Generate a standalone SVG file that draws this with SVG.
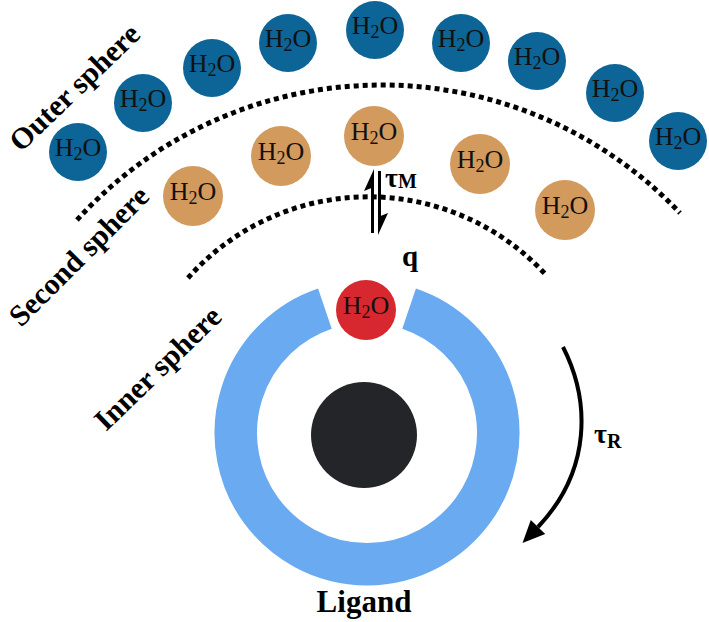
<svg xmlns="http://www.w3.org/2000/svg" width="709" height="622" viewBox="0 0 709 622">
<style>
.blue{fill:#0d6496}
.tan{fill:#d39a5e}
.red{fill:#d7282f}
.w{font-family:"Liberation Serif","Times New Roman",serif;font-size:26px;fill:#111;text-anchor:middle}
.sub{font-size:18px}
.lbl{font-family:"Liberation Serif","Times New Roman",serif;font-weight:bold;font-size:30px;fill:#000}
.dot{fill:none;stroke:#000;stroke-width:5;stroke-dasharray:5 4}
</style>
<rect width="709" height="622" fill="#fff"/>
<g id="sphere-boundaries">
<path class="dot" d="M77,220 A411.5,411.5 0 0 1 680,213"/>
<path class="dot" d="M188,278 A241,241 0 0 1 547,276"/>
</g>
<g id="outer-sphere">
<g id="o1"><circle class="blue" cx="78" cy="152" r="29"/><text class="w" x="78" y="156">H<tspan class="sub" dy="4">2</tspan><tspan dy="-4">O</tspan></text></g>
<g id="o2"><circle class="blue" cx="143" cy="103" r="29"/><text class="w" x="143" y="107">H<tspan class="sub" dy="4">2</tspan><tspan dy="-4">O</tspan></text></g>
<g id="o3"><circle class="blue" cx="212" cy="68" r="29"/><text class="w" x="212" y="72">H<tspan class="sub" dy="4">2</tspan><tspan dy="-4">O</tspan></text></g>
<g id="o4"><circle class="blue" cx="288" cy="43" r="29"/><text class="w" x="288" y="47">H<tspan class="sub" dy="4">2</tspan><tspan dy="-4">O</tspan></text></g>
<g id="o5"><circle class="blue" cx="375" cy="30" r="29"/><text class="w" x="375" y="34">H<tspan class="sub" dy="4">2</tspan><tspan dy="-4">O</tspan></text></g>
<g id="o6"><circle class="blue" cx="461" cy="43" r="29"/><text class="w" x="461" y="47">H<tspan class="sub" dy="4">2</tspan><tspan dy="-4">O</tspan></text></g>
<g id="o7"><circle class="blue" cx="537" cy="61" r="29"/><text class="w" x="537" y="65">H<tspan class="sub" dy="4">2</tspan><tspan dy="-4">O</tspan></text></g>
<g id="o8"><circle class="blue" cx="615" cy="93" r="29"/><text class="w" x="615" y="97">H<tspan class="sub" dy="4">2</tspan><tspan dy="-4">O</tspan></text></g>
<g id="o9"><circle class="blue" cx="678" cy="141" r="29"/><text class="w" x="678" y="145">H<tspan class="sub" dy="4">2</tspan><tspan dy="-4">O</tspan></text></g>
</g>
<g id="second-sphere">
<g id="s1"><circle class="tan" cx="193" cy="196" r="30"/><text class="w" x="193" y="200">H<tspan class="sub" dy="4">2</tspan><tspan dy="-4">O</tspan></text></g>
<g id="s2"><circle class="tan" cx="281" cy="156" r="30"/><text class="w" x="281" y="160">H<tspan class="sub" dy="4">2</tspan><tspan dy="-4">O</tspan></text></g>
<g id="s3"><circle class="tan" cx="374" cy="136" r="30"/><text class="w" x="374" y="140">H<tspan class="sub" dy="4">2</tspan><tspan dy="-4">O</tspan></text></g>
<g id="s4"><circle class="tan" cx="480" cy="164" r="30"/><text class="w" x="480" y="168">H<tspan class="sub" dy="4">2</tspan><tspan dy="-4">O</tspan></text></g>
<g id="s5"><circle class="tan" cx="565" cy="210" r="30"/><text class="w" x="565" y="214">H<tspan class="sub" dy="4">2</tspan><tspan dy="-4">O</tspan></text></g>
</g>
<g id="ligand">
<path d="M409.1,308.6 A131.25,131.25 0 1 1 324.9,308.6" fill="none" stroke="#6aaaf0" stroke-width="42.5"/>
<circle cx="364" cy="435" r="53" fill="#242528"/>
<text class="lbl" x="364" y="612" text-anchor="middle" style="font-size:31px">Ligand</text>
</g>
<g id="inner-water">
<circle class="red" cx="366" cy="310" r="30"/>
<text class="w" x="366" y="314">H<tspan class="sub" dy="4">2</tspan><tspan dy="-4">O</tspan></text>
<text class="lbl" x="402" y="266" style="font-size:29px">q</text>
</g>
<g id="labels">
<text class="lbl" transform="translate(21,153) rotate(-44)">Outer sphere</text>
<text class="lbl" transform="translate(21,328) rotate(-45)">Second sphere</text>
<text class="lbl" transform="translate(106,432) rotate(-44)">Inner sphere</text>
</g>
<g id="connectors">
<g id="exchange">
<rect x="371" y="180" width="3" height="53" fill="#000"/>
<polygon points="374,169 364,191 374,187" fill="#000"/>
<rect x="378" y="171" width="3" height="53" fill="#000"/>
<polygon points="378,235 388,213 378,217" fill="#000"/>
<text class="lbl" x="385" y="187" style="font-size:28px">τ<tspan dy="1" style="font-size:20px">M</tspan></text>
</g>
<g id="rotation">
<path d="M563,347 C590,400 592,470 538,527" fill="none" stroke="#000" stroke-width="4"/>
<polygon points="522.5,543 545.2,533.9 530.8,520.1" fill="#000"/>
<text class="lbl" x="594" y="443" style="font-size:28px">τ<tspan dy="5" style="font-size:20px">R</tspan></text>
</g>
</g>
</svg>
